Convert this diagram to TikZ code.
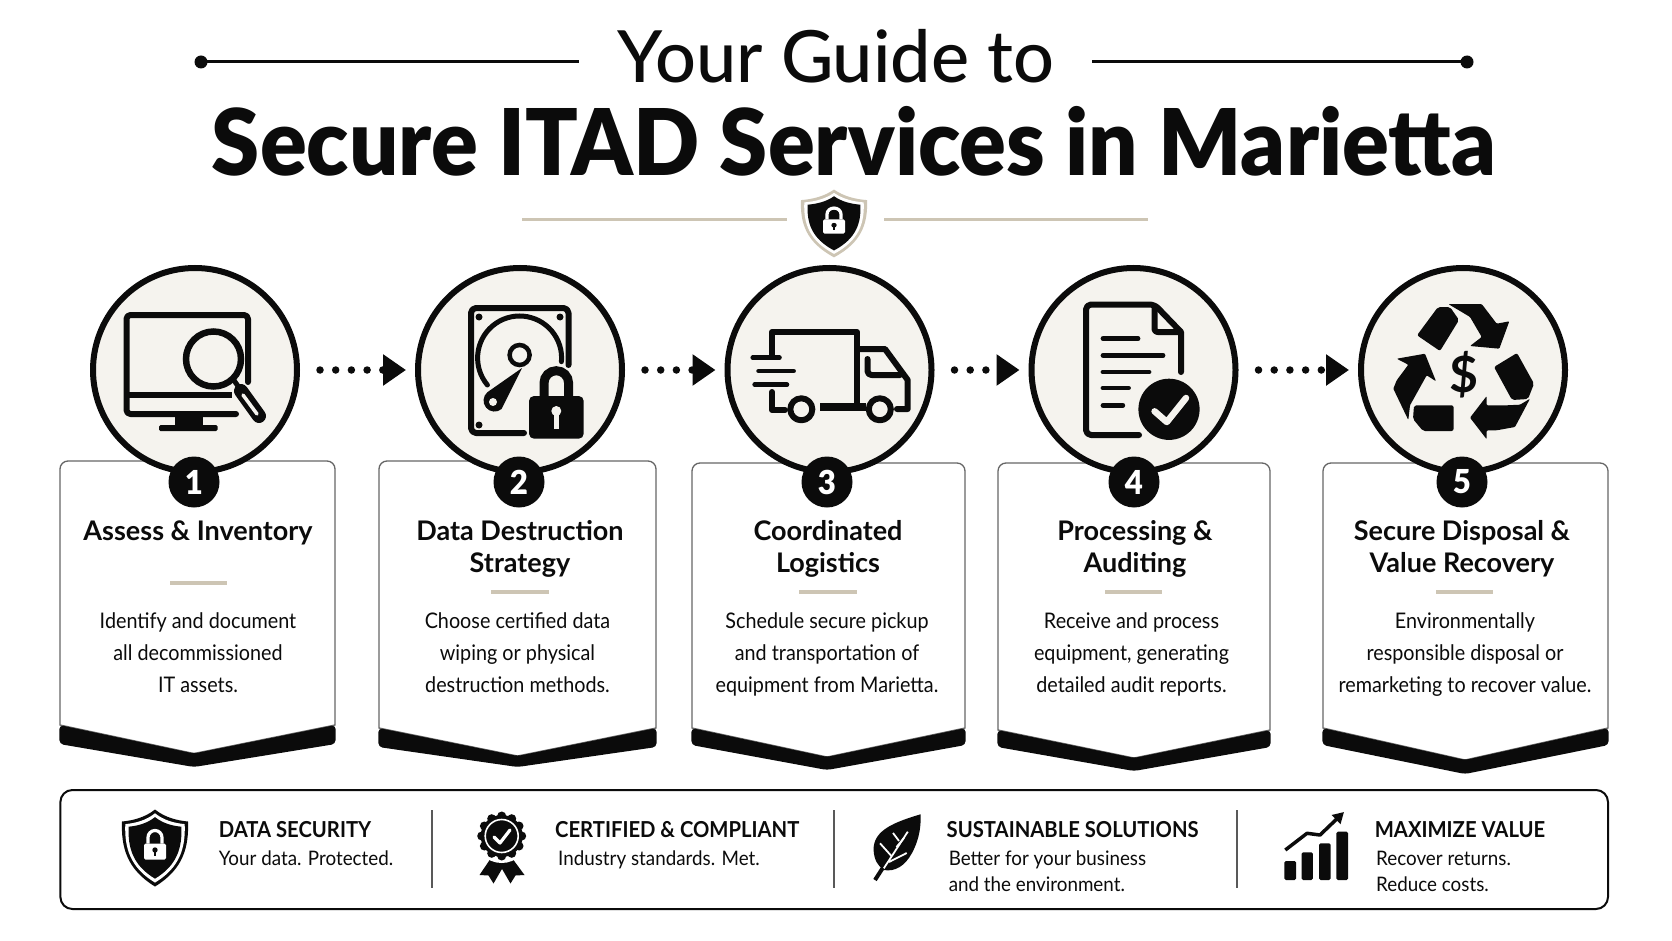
\documentclass[tikz,border=0pt]{standalone}
\usepackage{fontspec}
\setmainfont{Lato}
\newfontfamily\heavyfont[FakeStretch=.945]{Lato Black}
\newfontfamily\guidefont{Lato Medium}
\newfontfamily\bodyfont[FakeStretch=.92]{Lato}
\newfontfamily\capfont[FakeStretch=.92]{Lato Bold}
\newfontfamily\subfont[FakeStretch=.94]{Lato}
\usetikzlibrary{arrows.meta,positioning}

\definecolor{ivory}{HTML}{F5F3EE}
\definecolor{tanline}{HTML}{CDC5B4}
\definecolor{inkblack}{HTML}{0B0B0B}

\newcommand{\shieldpath}{(0,-38) .. controls (10,-30) and (22,-27) .. (33,-26) .. controls (34,0) and (28,22) .. (0,39) .. controls (-28,22) and (-34,0) .. (-33,-26) .. controls (-22,-27) and (-10,-30) .. (0,-38) -- cycle}

\tikzset{
  disc/.style={circle,draw=inkblack,fill=ivory,line width=6pt,minimum size=204pt,inner sep=0pt},
  badge/.style={circle,fill=inkblack,text=white,minimum size=51pt,inner sep=0pt,font=\heavyfont\fontsize{33}{33}\selectfont},
  cardline/.style={draw=black!60,line width=1.3pt,fill=white},
  flowarrow/.style={draw=inkblack,line width=7.5pt,line cap=round,dash pattern=on 0pt off 15.7pt,-{Triangle[length=23pt,width=30pt]},shorten <=20pt,shorten >=9pt},
  headtext/.style={align=center,inner sep=0pt,anchor=north,text=inkblack,font=\bfseries\fontsize{27}{32}\selectfont},
  bodytext/.style={align=center,inner sep=0pt,anchor=north,text=inkblack,font=\bodyfont\fontsize{21.5}{32}\selectfont},
  captitle/.style={inner sep=0pt,anchor=base west,text=inkblack,font=\capfont\fontsize{22}{22}\selectfont},
  capsub/.style={inner sep=0pt,anchor=base west,text=inkblack,font=\subfont\fontsize{20}{20}\selectfont},
  iconline/.style={draw=inkblack,line width=6pt,line join=round,line cap=round},
  pics/shieldicon/.style={code={
    \fill[#1] \shieldpath;
    \fill[white,scale=.9] \shieldpath;
    \fill[inkblack,scale=.8] \shieldpath;
    \draw[white,line width=3.2pt] (-7,-4) -- (-7,-10) arc[start angle=180,end angle=360,radius=7] -- (7,-4);
    \fill[white,rounded corners=1.5pt] (-11,-4) rectangle (11,12);
    \fill[inkblack] (0,2.5) circle[radius=2.7];
    \fill[inkblack] (-1.1,2.5) rectangle (1.1,8.5);
  }}
}

\begin{document}
\begin{tikzpicture}[x=1pt,y=-1pt]
  \useasboundingbox (0,0) rectangle (1672,941);
  \fill[white!99!ivory] (0,0) rectangle (1672,941);

  % Draw title
  \node[inner sep=0pt,anchor=base,text=inkblack,font=\guidefont\fontsize{72}{72}\selectfont] (guide) at (836,83) {Your Guide to};
  \node[inner sep=0pt,anchor=base,text=inkblack,font=\heavyfont\fontsize{92}{92}\selectfont] (title) at (854,176) {Secure ITAD Services in Marietta};
  \draw[inkblack,line width=3pt] (201,62) -- (579,62);
  \draw[inkblack,line width=3pt] (1092,62) -- (1467,62);
  \fill[inkblack] (201,62) circle[radius=6.5];
  \fill[inkblack] (1467,62) circle[radius=6.5];
  \draw[tanline,line width=3.5pt] (522,219.7) -- (787,219.7);
  \draw[tanline,line width=3.5pt] (884,219.7) -- (1148,219.7);
  \pic[yscale=.88] at (834,223) {shieldicon=tanline};

  % Draw cards
  \foreach \lft/\rgt/\tipx/\ytop/\sidey/\bandy/\tipin/\tipout in {
    60/335/194/461/725/744/753.5/767,
    379/656/517.5/461/728/747/756/767,
    692/965/827/463/728/745/757/770,
    998/1270/1134/463/730/747/758/771,
    1323/1608/1465/463/728/745/760/774} {
    \draw[cardline] (\lft,\sidey) [rounded corners=8pt] -- (\lft,\ytop) -- (\rgt,\ytop) [sharp corners] -- (\rgt,\sidey) -- (\tipx,\tipin) -- cycle;
    \fill[inkblack,rounded corners=4pt] (\lft-.6,\sidey) -- (\tipx,\tipin) -- (\rgt+.6,\sidey) -- (\rgt+.6,\bandy) -- (\tipx,\tipout) -- (\lft-.6,\bandy) -- cycle;
  }

  % Draw discs
  \foreach \n/\cx in {1/195,2/520,3/829.5,4/1133.5,5/1463} {
    \node[disc] (disc\n) at (\cx,370) {};
  }
  \draw[flowarrow] (disc1) -- (disc2);
  \draw[flowarrow] (disc2) -- (disc3);
  \draw[flowarrow] (disc3) -- (disc4);
  \draw[flowarrow] (disc4) -- (disc5);

  % Draw numbers
  \foreach \n/\cx in {1/194,2/519,3/827,4/1134,5/1462} {
    \node[badge] (num\n) at (\cx,482) {\n};
  }

  % Draw card texts
  \node[headtext] (head1) at (198,520.5) {Assess \& Inventory};
  \node[headtext] (head2) at (520,520.5) {Data Destruction\\Strategy};
  \node[headtext] (head3) at (828,520.5) {Coordinated\\Logistics};
  \node[headtext] (head4) at (1135,520.5) {Processing \&\\Auditing};
  \node[headtext] (head5) at (1462,520.5) {Secure Disposal \&\\Value Recovery};
  \foreach \xa/\xb/\y in {170/227/583,491/549/592,799/857/592,1105/1162/592,1436/1493/592} {
    \draw[tanline,line width=3.3pt] (\xa,\y) -- (\xb,\y);
  }
  \node[bodytext] (body1) at (198,612) {Identify and document\\all decommissioned\\IT assets.};
  \node[bodytext] (body2) at (517.5,612) {Choose certified data\\wiping or physical\\destruction methods.};
  \node[bodytext] (body3) at (827,612) {Schedule secure pickup\\and transportation of\\equipment from Marietta.};
  \node[bodytext] (body4) at (1131.5,612) {Receive and process\\equipment, generating\\detailed audit reports.};
  \node[bodytext] (body5) at (1465,612) {Environmentally\\responsible disposal or\\remarketing to recover value.};

  \begin{scope}[yshift=-2pt]
  % Draw monitor
  \draw[iconline,rounded corners=4pt] (248,380) -- (248,313) -- (126.5,313) -- (126.5,412) -- (236,412);
  \draw[iconline,line cap=butt] (128,393) -- (232,393);
  \fill[inkblack] (175,412) rectangle (203,424);
  \fill[inkblack,rounded corners=1.5pt] (159,423) rectangle (217.5,429);
  \draw[draw=inkblack,line width=6.5pt,fill=ivory] (213.5,357) circle[radius=27.5];
  \draw[inkblack,line width=5pt] (233,377) -- (240,387);
  \draw[inkblack,line width=14pt,line cap=round] (241,389) -- (259,414);
  \draw[ivory,line width=3.5pt,line cap=round] (243,393) -- (257,412);

  % Draw disk with lock
  \draw[iconline,rounded corners=5pt] (568.5,363) -- (568.5,306) -- (471,306) -- (471,431) -- (524,431);
  \foreach \x/\y in {479/315,560/315,479/423} {
    \fill[inkblack] (\x,\y) circle[radius=3.5];
  }
  \draw[inkblack,line width=5pt,line cap=round] (519.6,356) ++(140:42) arc[start angle=140,end angle=365,radius=42];
  \draw[inkblack,line width=4.5pt] (519.6,353) circle[radius=10];
  \fill[inkblack] (522,366) -- (501.6,407) arc[start angle=50,end angle=230,radius=11] -- cycle;
  \fill[ivory] (493,400) circle[radius=4];
  \draw[inkblack,line width=9pt] (544,396) -- (544,381) arc[start angle=180,end angle=360,radius=12.3] -- (568.6,396);
  \fill[inkblack,rounded corners=5pt] (529,394) rectangle (583.7,436.7);
  \fill[ivory] (556.3,409) circle[radius=5];
  \fill[ivory] (553.8,409) rectangle (558.8,427);

  % Draw truck
  \draw[iconline] (772,353) -- (772,330) -- (857,330) -- (857,403);
  \draw[iconline] (772,390) -- (772,408) -- (785,408);
  \draw[iconline] (857,347) -- (885,347) -- (907.7,378) -- (907.7,407) -- (897,407);
  \draw[iconline,rounded corners=4pt] (867.5,357) -- (867.5,373) -- (900,373);
  \draw[inkblack,line width=8pt] (820,405) -- (866,405);
  \draw[iconline,fill=ivory] (801.3,407.3) circle[radius=11];
  \draw[iconline,fill=ivory] (879.8,407.3) circle[radius=11];
  \draw[inkblack,line width=4.5pt,line cap=round] (752.7,355.7) -- (779.5,355.7);
  \draw[inkblack,line width=4.5pt,line cap=round] (758.5,369) -- (793.7,369);
  \draw[inkblack,line width=4.5pt,line cap=round] (754.6,382.7) -- (787,382.7);

  % Draw report
  \draw[iconline,rounded corners=5pt] (1139,433) -- (1086,433) -- (1086,302.5) -- (1154.5,302.5) [sharp corners] -- (1181,330) -- (1181,370);
  \draw[iconline,rounded corners=3pt] (1154.5,304) -- (1154.5,330) -- (1179,330);
  \foreach \xb/\y in {1138/336.7,1163/353.3,1149/370,1128.5/386,1122.8/403.3} {
    \draw[inkblack,line width=4.8pt,line cap=round] (1103,\y) -- (\xb,\y);
  }
  \fill[inkblack] (1169,407.3) circle[radius=30.6];
  \draw[ivory,line width=6.5pt,line cap=round,line join=round] (1154.6,409.3) -- (1166.8,420) -- (1186,396);

  % Draw recycle sign
  \fill[inkblack,rounded corners=2pt] (1417,333.3) -- (1438,305) -- (1450,305) -- (1459,318) -- (1440,349) -- cycle;
  \fill[inkblack,rounded corners=1pt] (1448.3,302) -- (1481.7,302) -- (1496.7,321.7) -- (1509.3,319.3) -- (1499.3,346.7) -- (1470,344) -- (1481.7,335) -- (1470,315) -- cycle;
  \fill[inkblack,rounded corners=2pt] (1494,365) -- (1517,351) -- (1534,381.7) -- (1528,397) -- (1512,398) -- cycle;
  \fill[inkblack,rounded corners=1pt] (1530,396.7) -- (1515,425) -- (1496.7,428.3) -- (1486.7,428.3) -- (1486.7,437.3) -- (1470,415.7) -- (1486.7,394) -- (1486.7,403.3) -- (1506.7,403.3) -- (1520,402.7) -- cycle;
  \fill[inkblack,rounded corners=2pt] (1414,403.3) -- (1453.5,403.3) -- (1453.5,429) -- (1423,429) -- (1413,417) -- cycle;
  \fill[inkblack,rounded corners=1pt] (1396.7,356.7) -- (1425,351.7) -- (1436,379.3) -- (1426.7,373.3) -- (1410,403.3) -- (1408.3,418) -- (1393.3,386.7) -- (1396.7,378.3) -- (1408.3,362.7) -- cycle;
  \node[inner sep=0pt,text=inkblack,font=\bfseries\fontsize{50}{50}\selectfont] (dollar) at (1464,373) {\$};
  \end{scope}

  % Draw bottom panel
  \draw[draw=inkblack,line width=2pt,rounded corners=12pt,fill=white] (60.4,790) rectangle (1608,909);
  \foreach \x in {432,834,1237} {
    \draw[black!65,line width=1.3pt] (\x,810) -- (\x,888);
  }
  \node[captitle] (cap1) at (218.6,837) {DATA SECURITY};
  \node[capsub] (sub1) at (218.6,865) {Your data. Protected.};
  \node[captitle] (cap2) at (555,837) {CERTIFIED \& COMPLIANT};
  \node[capsub] (sub2) at (558,865) {Industry standards. Met.};
  \node[captitle] (cap3) at (946.5,837) {SUSTAINABLE SOLUTIONS};
  \node[capsub] (sub3a) at (948.6,865) {Better for your business};
  \node[capsub] (sub3b) at (948.6,891) {and the environment.};
  \node[captitle] (cap4) at (1374.6,837) {MAXIMIZE VALUE};
  \node[capsub] (sub4a) at (1376,865) {Recover returns.};
  \node[capsub] (sub4b) at (1376,891) {Reduce costs.};

  % Draw bottom icons
  \pic at (155,847.5) {shieldicon=inkblack};

  \fill[inkblack] (491,858) -- (479.5,875) -- (488.5,875.5) -- (493.5,883.5) -- (506,862) -- cycle;
  \fill[inkblack] (512,858) -- (524.5,875) -- (515.5,875.5) -- (510.5,883.5) -- (498,862) -- cycle;
  \fill[white] (501.7,836) circle[radius=27];
  \foreach \a in {0,30,...,330} {
    \fill[inkblack] (501.7,836) ++(\a:20) circle[radius=4.5];
  }
  \fill[inkblack] (501.7,836) circle[radius=21];
  \draw[white,line width=1.6pt] (501.7,836) circle[radius=16.5];
  \draw[white,line width=3.2pt,line cap=round,line join=round] (494,837) -- (500,843) -- (510,830);

  \fill[inkblack] (920.5,814.3) .. controls (895,822) and (873,830) .. (873.6,850) .. controls (874,860) and (878,866) .. (883.8,870) .. controls (895,872) and (905,866) .. (912,853) .. controls (920,838) and (921,825) .. (920.5,814.3) -- cycle;
  \draw[inkblack,line width=4pt] (884,866) -- (875,880);
  \draw[white,line width=1.8pt] (883.8,868.3) -- (907.8,831.7);
  \draw[white,line width=1.8pt] (891.4,856) -- (880,843.3);
  \draw[white,line width=1.8pt] (889,862) -- (906.7,853);
  \draw[white,line width=1.8pt] (896.5,847) -- (904,838);
  \draw[white,line width=1.8pt] (899,841) -- (893,833);

  \foreach \xa/\xb/\y in {1284.3/1296/861,1301.6/1312.9/852.3,1319/1330.7/843.3,1336.3/1348/831.7} {
    \fill[inkblack,rounded corners=1.5pt] (\xa,\y) rectangle (\xb,880);
  }
  \draw[inkblack,line width=3.5pt,line join=round,-{Triangle[length=11pt,width=12pt]}] (1285.3,850) -- (1307,833.3) -- (1320,835) -- (1344,812);
\end{tikzpicture}
\end{document}
